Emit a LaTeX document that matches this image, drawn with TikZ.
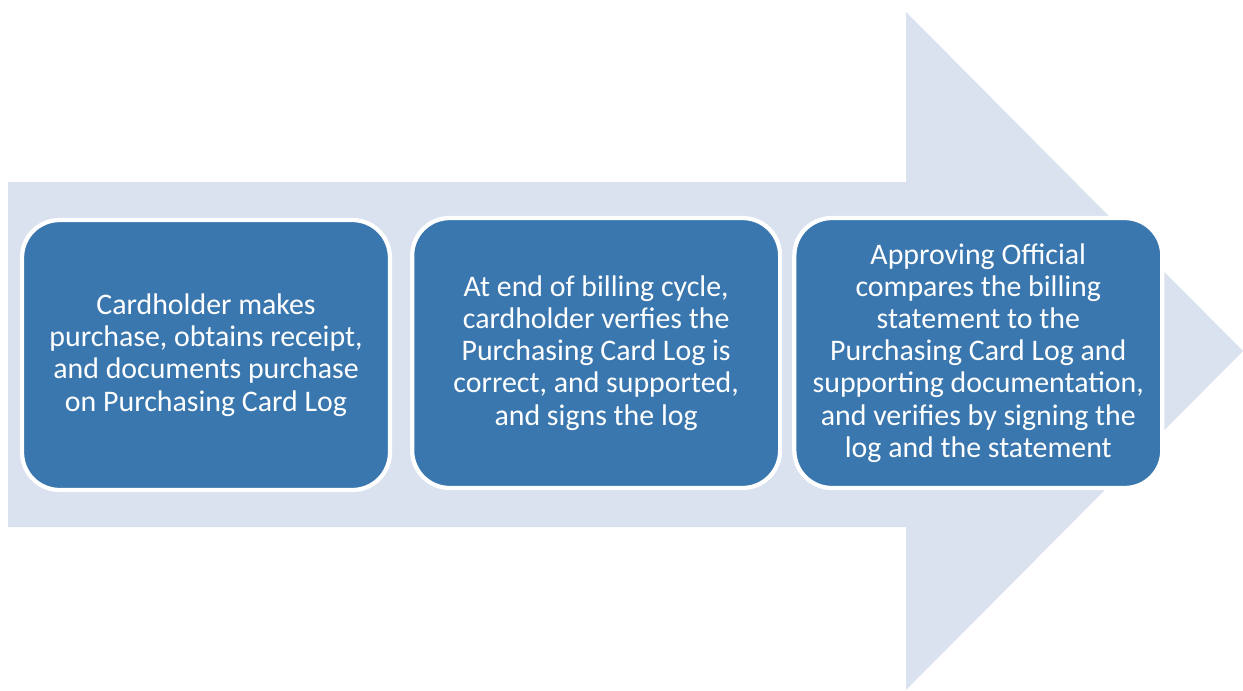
\documentclass[tikz,border=0pt]{standalone}
\usepackage{fontspec}
\setmainfont{Carlito}
\usetikzlibrary{positioning}
\definecolor{arrowfill}{HTML}{DAE1EF}
\definecolor{stepblue}{HTML}{3A77AE}

\begin{document}
\begin{tikzpicture}[x=0.02cm, y=-0.02cm,
                    stepbox/.style={rectangle, rounded corners=0.75cm, fill=stepblue, draw=white, line width=2.4pt,
                                    minimum width=7.36cm, minimum height=5.4cm, text=white, align=center,
                                    font=\fontsize{17}{18.3}\selectfont},
                    node distance=0.36cm]
                    \useasboundingbox (0,0) rectangle (1243,690);
                    \fill[arrowfill] (8,182) -- (906,182) -- (906,12) -- (1243,351) -- (906,690) -- (906,527) -- (8,527) -- cycle;
                    \node[stepbox] (purchase) at (206,355) {Cardholder makes\\purchase, obtains receipt,\\and documents purchase\\on Purchasing Card Log};
                    \node[stepbox] (verify) [right= of purchase, yshift=0.04cm] {At end of billing cycle,\\cardholder verfies the\\Purchasing Card Log is\\correct, and supported,\\and signs the log};
                    \node[stepbox] (approve) [right=0.2cm of verify] {Approving Official\\compares the billing\\statement to the\\Purchasing Card Log and\\supporting documentation,\\and verifies by signing the\\log and the statement};
                    \end{tikzpicture}
\end{document}
